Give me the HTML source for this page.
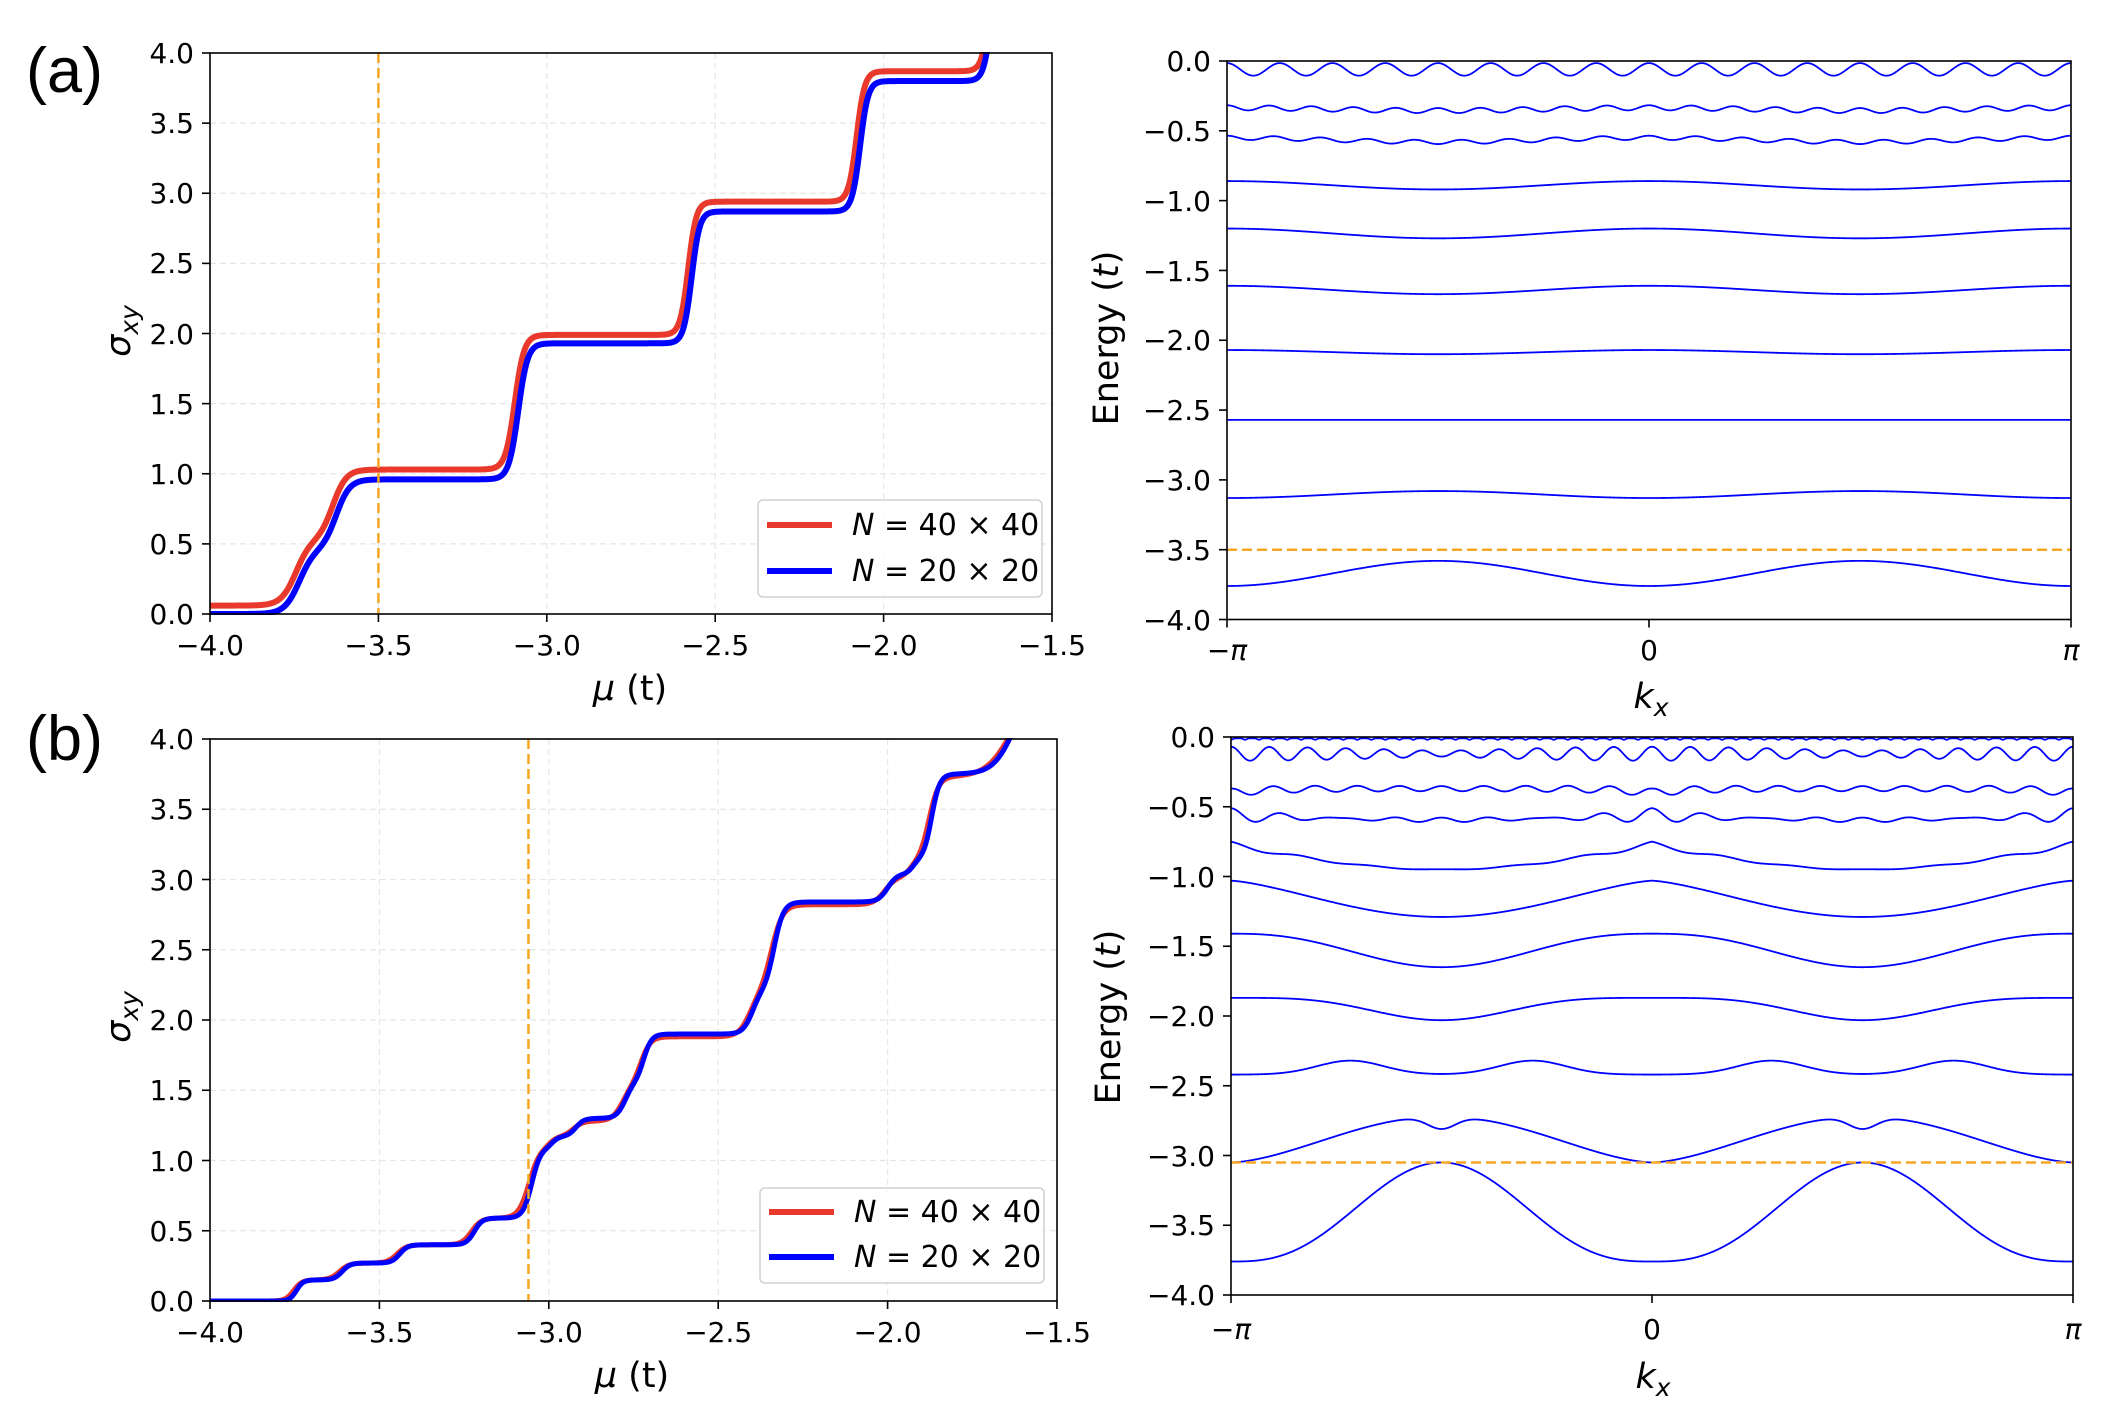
<!DOCTYPE html>
<html><head><meta charset="utf-8"><style>
html,body{margin:0;padding:0;background:#fff;}
svg{display:block;}
.t{font-family:"DejaVu Sans","Liberation Sans",sans-serif;font-size:28px;fill:#000;}
.lg{font-family:"DejaVu Sans","Liberation Sans",sans-serif;font-size:30px;fill:#000;}
.l{font-family:"DejaVu Sans","Liberation Sans",sans-serif;font-size:35px;fill:#000;}
.p{font-family:"Liberation Sans",sans-serif;font-size:63px;fill:#000;}
.g{stroke:#e6e6e6;stroke-width:1.2;stroke-dasharray:6,4;}
.ax{fill:none;stroke:#000;stroke-width:1.6;}
.tk{stroke:#000;stroke-width:1.6;}
</style></head><body>
<svg id="s" width="2120" height="1410" viewBox="0 0 2120 1410" xmlns="http://www.w3.org/2000/svg">
<rect width="2120" height="1410" fill="#fff"/>
<g id="grid"></g>
<g id="curves"></g>
<g id="frames"></g>

<text class="p" x="26" y="92">(a)</text>
<text class="p" x="26" y="760">(b)</text>

<g class="t" text-anchor="middle">
<text x="210" y="655">−4.0</text><text x="378.4" y="655">−3.5</text><text x="546.8" y="655">−3.0</text><text x="715.2" y="655">−2.5</text><text x="883.6" y="655">−2.0</text><text x="1052" y="655">−1.5</text>
<text x="210" y="1342">−4.0</text><text x="379.4" y="1342">−3.5</text><text x="548.8" y="1342">−3.0</text><text x="718.2" y="1342">−2.5</text><text x="887.6" y="1342">−2.0</text><text x="1057" y="1342">−1.5</text>
<text x="1227" y="660">−<tspan font-style="italic">π</tspan></text><text x="1649" y="660">0</text><text x="2071" y="660" font-style="italic">π</text>
<text x="1231" y="1339">−<tspan font-style="italic">π</tspan></text><text x="1652" y="1339">0</text><text x="2073" y="1339" font-style="italic">π</text>
</g>
<g class="t" text-anchor="end">
<text x="194" y="624">0.0</text><text x="194" y="554">0.5</text><text x="194" y="484">1.0</text><text x="194" y="414">1.5</text><text x="194" y="344">2.0</text><text x="194" y="273">2.5</text><text x="194" y="203">3.0</text><text x="194" y="133">3.5</text><text x="194" y="63">4.0</text>
<text x="194" y="1311">0.0</text><text x="194" y="1241">0.5</text><text x="194" y="1171">1.0</text><text x="194" y="1100">1.5</text><text x="194" y="1030">2.0</text><text x="194" y="960">2.5</text><text x="194" y="890">3.0</text><text x="194" y="819">3.5</text><text x="194" y="749">4.0</text>
<text x="1211" y="71">0.0</text><text x="1211" y="141">−0.5</text><text x="1211" y="211">−1.0</text><text x="1211" y="281">−1.5</text><text x="1211" y="350">−2.0</text><text x="1211" y="420">−2.5</text><text x="1211" y="490">−3.0</text><text x="1211" y="560">−3.5</text><text x="1211" y="630">−4.0</text>
<text x="1215" y="747">0.0</text><text x="1215" y="817">−0.5</text><text x="1215" y="887">−1.0</text><text x="1215" y="956">−1.5</text><text x="1215" y="1026">−2.0</text><text x="1215" y="1096">−2.5</text><text x="1215" y="1166">−3.0</text><text x="1215" y="1235">−3.5</text><text x="1215" y="1305">−4.0</text>
</g>

<g class="l" text-anchor="middle">
<text x="630" y="700"><tspan font-style="italic">μ</tspan> (t)</text>
<text x="632" y="1387"><tspan font-style="italic">μ</tspan> (t)</text>
<text x="1651" y="708" font-style="italic">k<tspan font-size="25" dy="8">x</tspan></text>
<text x="1653" y="1388" font-style="italic">k<tspan font-size="25" dy="8">x</tspan></text>
<text transform="translate(130,331) rotate(-90)" font-style="italic">σ<tspan font-size="25" dy="8">xy</tspan></text>
<text transform="translate(130,1017) rotate(-90)" font-style="italic">σ<tspan font-size="25" dy="8">xy</tspan></text>
<text transform="translate(1118,338) rotate(-90)">Energy (<tspan font-style="italic">t</tspan>)</text>
<text transform="translate(1120,1017) rotate(-90)">Energy (<tspan font-style="italic">t</tspan>)</text>
</g>

<g>
<rect x="758" y="500" width="284" height="97" rx="5" fill="#fff" fill-opacity="0.85" stroke="#d0d0d0" stroke-width="1.5"/>
<line x1="767" y1="525" x2="832" y2="525" stroke="#e8392c" stroke-width="6"/>
<line x1="767" y1="571" x2="832" y2="571" stroke="#0000ff" stroke-width="6"/>
<text class="lg" x="852" y="535"><tspan font-style="italic">N</tspan> = 40 × 40</text>
<text class="lg" x="852" y="581"><tspan font-style="italic">N</tspan> = 20 × 20</text>
<rect x="760" y="1188" width="284" height="95" rx="5" fill="#fff" fill-opacity="0.85" stroke="#d0d0d0" stroke-width="1.5"/>
<line x1="769" y1="1212" x2="834" y2="1212" stroke="#e8392c" stroke-width="6"/>
<line x1="769" y1="1257" x2="834" y2="1257" stroke="#0000ff" stroke-width="6"/>
<text class="lg" x="854" y="1222"><tspan font-style="italic">N</tspan> = 40 × 40</text>
<text class="lg" x="854" y="1267"><tspan font-style="italic">N</tspan> = 20 × 20</text>
</g>
</svg>
<script>
var NS="http://www.w3.org/2000/svg";
function el(p,t,a){var e=document.createElementNS(NS,t);for(var k in a)e.setAttribute(k,a[k]);document.getElementById(p).appendChild(e);return e;}
function ax(px0,px1,py0,py1,x0,x1,y0,y1){return{X:function(v){return px0+(v-x0)/(x1-x0)*(px1-px0)},Y:function(v){return py1-(v-y0)/(y1-y0)*(py1-py0)},px0:px0,px1:px1,py0:py0,py1:py1};}
var PI=Math.PI;
var A1=ax(210,1052,53,614,-4,-1.5,0,4), B1=ax(210,1057,739,1301,-4,-1.5,0,4);
var A2=ax(1227,2071,61,619.5,-PI,PI,-4,0), B2=ax(1231,2073,737,1295,-PI,PI,-4,0);
function frame(A,xt,yt){
 el("frames","rect",{x:A.px0,y:A.py0,width:A.px1-A.px0,height:A.py1-A.py0,"class":"ax"});
 xt.forEach(function(v){var x=A.X(v);el("frames","line",{x1:x,x2:x,y1:A.py1,y2:A.py1+8,"class":"tk"});});
 yt.forEach(function(v){var y=A.Y(v);el("frames","line",{x1:A.px0-8,x2:A.px0,y1:y,y2:y,"class":"tk"});});
}
function grid(A,xt,yt){
 xt.forEach(function(v){var x=A.X(v);el("grid","line",{x1:x,x2:x,y1:A.py0,y2:A.py1,"class":"g"});});
 yt.forEach(function(v){var y=A.Y(v);el("grid","line",{x1:A.px0,x2:A.px1,y1:y,y2:y,"class":"g"});});
}
var lx=[-4,-3.5,-3,-2.5,-2,-1.5], ly=[0,.5,1,1.5,2,2.5,3,3.5,4], ry=[0,-.5,-1,-1.5,-2,-2.5,-3,-3.5,-4], rx=[-PI,0,PI];
grid(A1,lx,ly);grid(B1,lx,ly);
frame(A1,lx,ly);frame(B1,lx,ly);frame(A2,rx,ry);frame(B2,rx,ry);
function sig(z){return 1/(1+Math.exp(-z));}
function stepf(base,steps){return function(x){var s=base;steps.forEach(function(q){s+=q[1]*sig((x-q[0])/q[2]);});return s;};}
function plot(A,f,a,b,n,col,w){
 var d="";for(var i=0;i<=n;i++){var x=a+(b-a)*i/n,y=f(x); d+=(i?"L":"M")+A.X(x).toFixed(2)+","+A.Y(y).toFixed(2);}
 return el("curves","path",{d:d,fill:"none",stroke:col,"stroke-width":w,"stroke-linejoin":"round"});
}
function clipPath(id,A){var c=el("curves","clipPath",{id:id});var r=document.createElementNS(NS,"rect");r.setAttribute("x",A.px0);r.setAttribute("y",A.py0-1);r.setAttribute("width",A.px1-A.px0);r.setAttribute("height",A.py1-A.py0+2);c.appendChild(r);}
clipPath("c1",A1);clipPath("c2",B1);clipPath("c3",A2);clipPath("c4",B2);
var redA=stepf(0.06,[[-3.745,0.47,0.022],[-3.635,0.5,0.02],[-3.095,0.96,0.014],[-2.58,0.95,0.012],[-2.08,0.93,0.012],[-1.68,1.2,0.012]]);
var bluA=stepf(0.0,[[-3.735,0.46,0.022],[-3.625,0.5,0.02],[-3.085,0.97,0.014],[-2.57,0.94,0.012],[-2.07,0.93,0.012],[-1.675,1.2,0.012]]);
plot(A1,redA,-4,-1.5,1200,"#e8392c",6).setAttribute("clip-path","url(#c1)");
plot(A1,bluA,-4,-1.5,1200,"#0000ff",6).setAttribute("clip-path","url(#c1)");
el("curves","line",{x1:A1.X(-3.5),x2:A1.X(-3.5),y1:A1.py0,y2:A1.py1,stroke:"#f5a623","stroke-width":2.5,"stroke-dasharray":"10,5"});
var sb=[[-3.745,0.15,0.01],[-3.61,0.12,0.012],[-3.44,0.13,0.012],[-3.22,0.19,0.012],[-3.05,0.5,0.013],[-2.99,0.08,0.01],[-2.92,0.13,0.012],[-2.775,0.25,0.013],[-2.72,0.35,0.012],[-2.4,0.3,0.014],[-2.335,0.64,0.014],[-2.0,0.2,0.014],[-1.925,0.1,0.01],[-1.87,0.61,0.012],[-1.63,0.6,0.03]];
var sr=sb.map(function(q,i){return [q[0]-0.008,q[1]*(i==6?0.85:1),q[2]*1.2];});
var bluB=stepf(0,sb), redB=stepf(0,sr);
plot(B1,redB,-4,-1.5,1500,"#e8392c",5).setAttribute("clip-path","url(#c2)");
plot(B1,bluB,-4,-1.5,1500,"#0000ff",5).setAttribute("clip-path","url(#c2)");
el("curves","line",{x1:B1.X(-3.06),x2:B1.X(-3.06),y1:B1.py0,y2:B1.py1,stroke:"#f5a623","stroke-width":2.5,"stroke-dasharray":"10,5"});
var c2=function(k){return Math.cos(2*k);};
var bandsA=[
 function(k){return -3.67-0.09*c2(k);},
 function(k){return -3.105-0.025*c2(k);},
 function(k){return -2.57;},
 function(k){return -2.085+0.015*c2(k);},
 function(k){return -1.64+0.03*c2(k);},
 function(k){return -1.235+0.035*c2(k);},
 function(k){return -0.89+0.03*c2(k);},
 function(k){return -0.565+0.015*c2(k)+0.015*Math.cos(18*k);},
 function(k){return -0.345+0.01*c2(k)+0.018*Math.cos(20*k);},
 function(k){return -0.06+0.045*Math.cos(16*k);}
];
bandsA.forEach(function(f){plot(A2,f,-PI,PI,1200,"#0000ff",1.8).setAttribute("clip-path","url(#c3)");});
el("curves","line",{x1:A2.px0,x2:A2.px1,y1:A2.Y(-3.5),y2:A2.Y(-3.5),stroke:"#f5a623","stroke-width":2.5,"stroke-dasharray":"10,5"});
function s2(k){return (1-Math.cos(2*k))/2;}
function g(k,c,w){var a=Math.abs(k);return Math.exp(-Math.pow((a-c)/w,2));}
function near0(k){var a=Math.abs(k);return Math.min(a,PI-a);}
var bandsB=[
 function(k){return -3.76+0.71*Math.pow(s2(k),1.4);},
 function(k){return -3.05+0.33*Math.pow(s2(k),0.8)-0.09*g(k,PI/2,0.15);},
 function(k){return -2.42+0.1*(g(k,PI/2+0.68,0.35)+g(k,PI/2-0.68,0.35));},
 function(k){return -1.87-0.16*Math.pow(s2(k),2);},
 function(k){return -1.41-0.24*Math.pow(s2(k),1.3);},
 function(k){return -1.03-0.26*Math.pow(s2(k),0.7);},
 function(k){return -0.77-0.18*Math.pow(s2(k),0.5)+0.02*Math.cos(12*k)*Math.exp(-near0(k)*1.5);},
 function(k){return -0.6+0.08*Math.exp(-near0(k)*1.2)*(0.5+0.5*Math.cos(16*k))+0.01*Math.cos(20*k);},
 function(k){return -0.37+0.03*Math.cos(20*k)*(0.5+0.5*Math.exp(-near0(k)))-0.03*Math.exp(-near0(k)*4);},
 function(k){return -0.12+0.05*Math.cos(22*k)*(0.4+0.6*Math.abs(Math.cos(k)));},
 function(k){return -0.01-0.01*Math.pow(Math.cos(30*k),8);}
];
bandsB.forEach(function(f){plot(B2,f,-PI,PI,1500,"#0000ff",1.8).setAttribute("clip-path","url(#c4)");});
el("curves","line",{x1:B2.px0,x2:B2.px1,y1:B2.Y(-3.05),y2:B2.Y(-3.05),stroke:"#f5a623","stroke-width":2.5,"stroke-dasharray":"10,5"});
</script>
</body></html>
